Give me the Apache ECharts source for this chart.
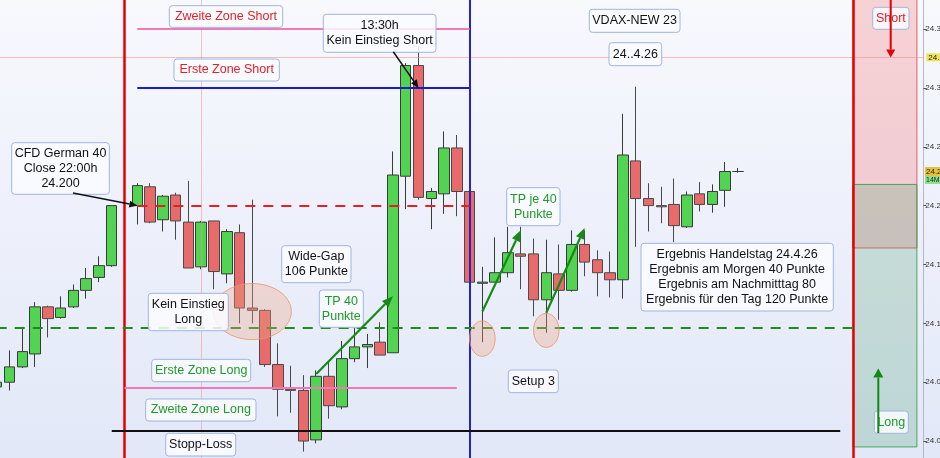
<!DOCTYPE html>
<html><head><meta charset="utf-8">
<script src="https://cdn.jsdelivr.net/npm/echarts@6/dist/echarts.min.js"></script>
<style>
html,body{margin:0;padding:0;background:#fff;}
#c{width:940px;height:458px;background:linear-gradient(180deg,#f8f9fd 0%,#eef1fb 45%,#e2e8f8 100%);}
</style>
</head><body><div id="c"></div>
<script>
// ---- categories: 15-minute bars (previous evening, break, trading day, empty future slots)
const categories = [
 '23.4. 19:30','23.4. 19:45','23.4. 20:00','23.4. 20:15','23.4. 20:30','23.4. 20:45','23.4. 21:00','23.4. 21:15','23.4. 21:30','23.4. 21:45',
 '24.4.',
 '24.4. 08:00','24.4. 08:15','24.4. 08:30','24.4. 08:45','24.4. 09:00','24.4. 09:15','24.4. 09:30','24.4. 09:45','24.4. 10:00','24.4. 10:15',
 '24.4. 10:30','24.4. 10:45','24.4. 11:00','24.4. 11:15','24.4. 11:30','24.4. 11:45','24.4. 12:00','24.4. 12:15','24.4. 12:30','24.4. 12:45',
 '24.4. 13:00','24.4. 13:15','24.4. 13:30','24.4. 13:45','24.4. 14:00','24.4. 14:15','24.4. 14:30','24.4. 14:45','24.4. 15:00','24.4. 15:15',
 '24.4. 15:30','24.4. 15:45','24.4. 16:00','24.4. 16:15','24.4. 16:30','24.4. 16:45','24.4. 17:00','24.4. 17:15','24.4. 17:30','24.4. 17:45',
 '24.4. 18:00','24.4. 18:15','24.4. 18:30','24.4. 18:45','24.4. 19:00','24.4. 19:15','24.4. 19:30','24.4. 19:45',
 '24.4. 20:00','24.4. 20:15','24.4. 20:30','24.4. 20:45','24.4. 21:00','24.4. 21:15','24.4. 21:30','24.4. 21:45',
 '24.4. 22:00','24.4. 22:15','24.4. 22:30','24.4. 22:45','24.4. 23:00','24.4. 23:15'
];
// ---- candles: [open, close, low, high]
const candles = [
 [24046,24050,24044,24052],[24050,24063,24043,24077],[24063,24076,24062,24097],[24074,24114,24063,24118],
 [24114,24104,24088,24115],[24105,24113,24104,24123],[24114,24128,24113,24133],[24128,24138,24121,24147],
 [24139,24149,24135,24157],[24149,24200,24148,24200],
 '-',
 [24200,24217,24184,24219],[24216,24186,24185,24219],[24188,24208,24178,24209],[24209,24187,24171,24211],
 [24186,24147,24147,24221],[24148,24186,24146,24187],[24187,24144,24129,24187],[24142,24178,24134,24180],
 [24177,24113,24100,24184],[24113,24111,24100,24205],[24111,24065,24063,24112],[24065,24044,24021,24083],
 [24044,24043,24024,24064],[24043,24000,23991,24056],[24001,24055,23998,24060],[24055,24030,24019,24067],
 [24029,24070,24027,24085],[24070,24080,24067,24096],[24080,24082,24062,24091],[24084,24073,24073,24101],
 [24075,24226,24075,24246],[24225,24319,24197,24321],[24319,24207,24205,24336],[24206,24212,24180,24215],
 [24210,24249,24193,24263],[24249,24212,24191,24260],[24212,24135,24134,24213],[24134,24135,24084,24148],
 [24135,24143,24135,24173],[24143,24160,24139,24182],[24159,24157,24129,24182],[24159,24120,24106,24172],
 [24120,24143,24092,24171],[24142,24128,24103,24167],[24128,24167,24127,24179],[24167,24152,24140,24179],
 [24154,24143,24123,24162],[24143,24137,24122,24161],[24137,24243,24121,24278],[24238,24206,24165,24301],
 [24206,24200,24178,24219],[24200,24199,24185,24216],[24201,24183,24169,24223],[24182,24209,24181,24212],
 [24210,24201,24195,24220],[24201,24212,24194,24218],[24213,24229,24199,24237],[24229,24229,24228,24232]
];
// ---- price levels
const zweiteZoneShort = 24350;
const ersteZoneShort = 24300;
const closeLevel = 24200;
const longLevel = 24096;
const ersteZoneLong = 24045;
const stoppLoss = 24009;
const cursorLevel = 24326;
const lastPrice = 24229;
const shortZone = [24164, 24400];
const longZone = [23995, 24218];
// ---- axis
const yMin = 23950, yMax = 24400, yStep = 50;
// ---- annotation anchors in data space [slot, price]
const arrowsGreen = [[25, 24057, 31, 24123], [38, 24110, 41, 24179], [43, 24109, 46, 24181]];
const ellipses = [[20, 24110], [38, 24087], [43, 24094]];

function fmt(v){ const k = Math.floor(v/1000); const r = String(Math.round(v - k*1000)).padStart(3,'0'); return k + '.' + r; }

const FONT = '"Liberation Sans", Arial, sans-serif';
const chart = echarts.init(document.getElementById('c'), null, {renderer:'canvas'});

const seg = (a, b, v, color, width, type) => [
  {coord:[a, v], lineStyle:{color:color, width:width, type:type}},
  {coord:[b, v]}
];
const vline = (i, color, width) => ({xAxis:i, lineStyle:{color:color, width:width, type:'solid'}});

const option = {
  animation:false,
  backgroundColor:'transparent',
  grid:{left:-9.67, right:16.7, top:-29.8, bottom:-41.9, containLabel:false, outerBoundsMode:'none'},
  xAxis:{type:'category', data:categories, boundaryGap:true,
    axisLine:{show:false}, axisTick:{show:false}, axisLabel:{show:false}, splitLine:{show:false}},
  yAxis:{type:'value', position:'right', min:yMin, max:yMax, interval:yStep, scale:true,
    axisLine:{show:true, lineStyle:{color:'#b4b8c2', width:1}},
    axisTick:{show:true, length:3, lineStyle:{color:'#555'}},
    axisLabel:{show:true, margin:2, fontSize:8, color:'#333', fontFamily:FONT, formatter:v=>fmt(v)},
    splitLine:{show:false}},
  series:[{
    type:'candlestick',
    data:candles,
    barWidth:11,
    itemStyle:{color:'#52d452', color0:'#e86a6a', borderColor:'#3a3a3a', borderColor0:'#4a4a4a', borderWidth:1},
    markArea:{silent:true, data:[
      [{xAxis:67, yAxis:shortZone[0], itemStyle:{color:'rgba(245,120,120,0.30)', borderColor:'rgba(230,80,80,0.9)', borderWidth:1}},
       {xAxis:72, yAxis:shortZone[1]}],
      [{xAxis:67, yAxis:longZone[0], itemStyle:{color:'rgba(80,160,110,0.25)', borderColor:'rgba(60,160,80,0.9)', borderWidth:1}},
       {xAxis:72, yAxis:longZone[1]}]
    ]},
    markLine:{silent:true, symbol:['none','none'], label:{show:false}, data:[
      {yAxis:cursorLevel, lineStyle:{color:'rgba(240,140,140,0.55)', width:1, type:'solid'},
        label:{show:true, position:'end', distance:3, formatter:fmt(cursorLevel), backgroundColor:'#f2e35a',
          color:'#222', fontSize:8, fontFamily:FONT, padding:[0,2], lineHeight:8}},
      vline(16, 'rgba(240,150,150,0.55)', 1),
      vline(10, '#e80000', 2.5),
      vline(37, '#2424c8', 2),
      vline(67, '#e80000', 2.5),
      seg(11, 37, zweiteZoneShort, '#f07ab8', 2, 'solid'),
      seg(11, 37, ersteZoneShort, '#1a1ad0', 2, 'solid'),
      seg(11, 37, closeLevel, '#e52020', 2, [10, 8]),
      seg(0, 67, longLevel, '#1e8c1e', 2, [10, 8]),
      seg(10, 36, ersteZoneLong, '#f07ab8', 2, 'solid'),
      seg(9, 66, stoppLoss, '#111', 2, 'solid')
    ]}
  }]
};
chart.setOption(option);

function px(i, v){ return chart.convertToPixel({gridIndex:0}, [i, v]); }

const g = [];
function box(x, y, w, h, lines, color){
  g.push({type:'rect', z:100, shape:{x:x, y:y, width:w, height:h, r:3},
    style:{fill:'rgba(250,251,255,0.85)', stroke:'#9fb4e0', lineWidth:1}});
  g.push({type:'text', z:101, x:x + w/2, y:y + h/2,
    style:{text:lines.join('\n'), fill:color, font:'12.5px ' + FONT, fontSize:12.5, fontFamily:FONT,
      align:'center', textAlign:'center', verticalAlign:'middle', textVerticalAlign:'middle', lineHeight:15}});
}
function arrow(p1, p2, color, width, hl, hw, z){
  const dx = p2[0]-p1[0], dy = p2[1]-p1[1], L = Math.hypot(dx, dy), ux = dx/L, uy = dy/L;
  const bx = p2[0]-ux*hl, by = p2[1]-uy*hl;
  g.push({type:'line', z:z||102, shape:{x1:p1[0], y1:p1[1], x2:bx, y2:by}, style:{stroke:color, lineWidth:width}});
  g.push({type:'polygon', z:z||102, shape:{points:[[p2[0],p2[1]],[bx-uy*hw/2, by+ux*hw/2],[bx+uy*hw/2, by-ux*hw/2]]},
    style:{fill:color}});
}

// ellipses
const radii = [[39, 28], [12.8, 17.7], [12.8, 17]];
ellipses.forEach((e, k) => {
  const p = px(e[0], e[1]);
  g.push({type:'ellipse', z:90, shape:{cx:p[0], cy:p[1], rx:radii[k][0], ry:radii[k][1]},
    style:{fill:'rgba(240,165,130,0.33)', stroke:'rgba(235,150,110,0.85)', lineWidth:1}});
});

// text boxes
box(11.7, 142.7, 97.6, 51.6, ['CFD German 40', 'Close 22:00h', '24.200'], '#111');
box(169.3, 5.7, 113.4, 21.6, ['Zweite Zone Short'], '#e3202a');
box(174, 59, 105.3, 22, ['Erste Zone Short'], '#e3202a');
box(323.3, 14.3, 112.7, 38, ['13:30h', 'Kein Einstieg Short'], '#111');
box(589.3, 9.3, 90.7, 23, ['VDAX-NEW 23'], '#111');
box(609, 42.7, 52.7, 23, ['24..4.26'], '#111');
box(281.7, 245.7, 69.3, 37, ['Wide-Gap', '106 Punkte'], '#111');
box(319.3, 290, 44, 37.3, ['TP 40', 'Punkte'], '#1f9a28');
box(148.3, 293.3, 80, 37.4, ['Kein Einstieg', 'Long'], '#111');
box(151.7, 359.3, 99, 22.4, ['Erste Zone Long'], '#1f9a28');
box(145.7, 399, 110.3, 22, ['Zweite Zone Long'], '#1f9a28');
box(165.7, 433.3, 70, 22.7, ['Stopp-Loss'], '#111');
box(506.7, 187.7, 53.3, 38, ['TP je 40', 'Punkte'], '#1f9a28');
box(508.3, 370, 50, 22.7, ['Setup 3'], '#111');
box(641, 243.3, 192.3, 67.7, ['Ergebnis Handelstag 24.4.26', 'Ergebnis am Morgen 40 Punkte', 'Ergebnis am Nachmitttag 80', 'Ergebnis für den Tag 120 Punkte'], '#111');
box(872.7, 7.3, 36.3, 22, ['Short'], '#e3202a');
box(874.3, 411, 34, 22.3, ['Long'], '#1f9a28');

// black pointer arrows
arrow([73, 193], px(11, closeLevel), '#111', 1.5, 8, 7);
arrow([393.3, 51.7], px(33, ersteZoneShort), '#111', 1.5, 8, 7);
// green target arrows
arrowsGreen.forEach(a => arrow(px(a[0], a[1]), px(a[2], a[3]), '#168a16', 2.2, 11, 9));
// zone arrows
arrow([890.7, 0], [890.7, 57.5], '#e00000', 2, 8, 9, 103);
arrow([878.3, 433], [878.3, 368.5], '#138a13', 2, 9, 10, 103);

// last price + timer labels on the axis
const lp = px(58, lastPrice);
g.push({type:'rect', z:110, shape:{x:925, y:lp[1]-4.5, width:20, height:9}, style:{fill:'#e6c23a'}});
g.push({type:'text', z:111, x:926, y:lp[1], style:{text:fmt(lastPrice), fill:'#222', font:'8px ' + FONT, fontSize:8, verticalAlign:'middle', textVerticalAlign:'middle'}});
g.push({type:'rect', z:110, shape:{x:925, y:lp[1]+4.5, width:20, height:8}, style:{fill:'#8fe08f'}});
g.push({type:'text', z:111, x:926, y:lp[1]+8.5, style:{text:'14M', fill:'#222', font:'7px ' + FONT, fontSize:7, verticalAlign:'middle', textVerticalAlign:'middle'}});

chart.setOption({graphic:{elements:g}});
</script></body></html>
